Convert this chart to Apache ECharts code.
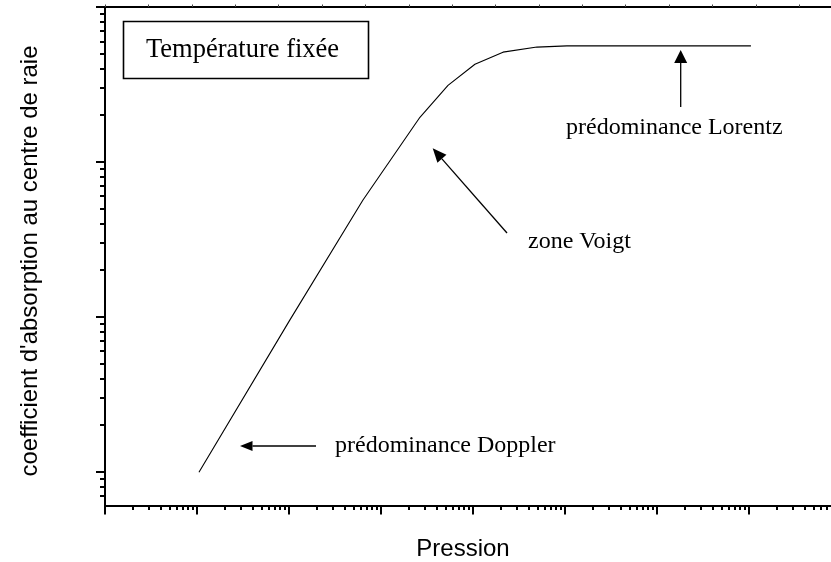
<!DOCTYPE html>
<html>
<head>
<meta charset="utf-8">
<script src="https://cdn.jsdelivr.net/npm/echarts@6/dist/echarts.min.js"></script>
<style>
html,body{margin:0;padding:0;background:#fff;}
#c{width:831px;height:562px;}
</style>
</head>
<body>
<div id="c"></div>
<script>
// ---- data (log-log) ----
const pression = [10.5, 102, 637, 2650, 5350, 10500, 21200, 49600, 105000, 10500000];
const coefficient = [0.99, 9.5, 56.7, 194, 312, 427, 511, 551, 561, 561];

// axis tick values
const xMajorTicks = [1, 10, 100, 1e3, 1e4, 1e5, 1e6, 1e7];
const yMajorTicks = [1, 10, 100, 1000];
const minorMultipliers = [2, 3, 4, 5, 6, 7, 8, 9];

const xMin = 1, xMax = 7.79e7;
const yMin = 0.603, yMax = 1000;

function minorTicks(decades, lo, hi) {
  const out = [];
  decades.forEach(d => minorMultipliers.forEach(m => {
    const v = d * m;
    if (v > lo && v < hi) out.push(v);
  }));
  return out;
}
const xMinorTicks = minorTicks([1, 10, 100, 1e3, 1e4, 1e5, 1e6, 1e7], xMin, xMax);
const yMinorTicks = minorTicks([0.1, 1, 10, 100], yMin, yMax);

const chart = echarts.init(document.getElementById('c'), null, {renderer: 'canvas'});

const black = '#000';
const serif = '"Liberation Serif", "Times New Roman", serif';
const sans = '"Liberation Sans", Arial, sans-serif';

function arrow(x1, y1, x2, y2, headLen, headHalf) {
  const dx = x2 - x1, dy = y2 - y1;
  const L = Math.sqrt(dx * dx + dy * dy);
  const ux = dx / L, uy = dy / L;
  const bx = x2 - ux * headLen, by = y2 - uy * headLen;
  const px = -uy, py = ux;
  return [
    {type: 'line', shape: {x1: x1, y1: y1, x2: bx, y2: by}, style: {stroke: black, lineWidth: 1.3}, silent: true},
    {type: 'polygon', shape: {points: [[x2, y2], [bx + px * headHalf, by + py * headHalf], [bx - px * headHalf, by - py * headHalf]]}, style: {fill: black}, silent: true}
  ];
}

const graphics = [
  {type: 'rect', shape: {x: 123.5, y: 21.5, width: 245, height: 57}, style: {fill: '#fff', stroke: black, lineWidth: 1.6}, z: 10},
  {type: 'text', x: 146, y: 50, style: {text: 'Température fixée', font: '26.5px ' + serif, fill: black, textAlign: 'left', textVerticalAlign: 'middle'}, z: 11},
  {type: 'text', x: 566, y: 128, style: {text: 'prédominance Lorentz', font: '24px ' + serif, fill: black, textAlign: 'left', textVerticalAlign: 'middle'}, z: 11},
  {type: 'text', x: 528, y: 242, style: {text: 'zone Voigt', font: '24px ' + serif, fill: black, textAlign: 'left', textVerticalAlign: 'middle'}, z: 11},
  {type: 'text', x: 335, y: 446, style: {text: 'prédominance Doppler', font: '24px ' + serif, fill: black, textAlign: 'left', textVerticalAlign: 'middle'}, z: 11},
  {type: 'text', x: 463, y: 549, style: {text: 'Pression', font: '24px ' + sans, fill: black, textAlign: 'center', textVerticalAlign: 'middle'}, z: 11},
  {type: 'text', x: 30, y: 261, rotation: Math.PI / 2, style: {text: "coefficient d'absorption au centre de raie", font: '24px ' + sans, fill: black, textAlign: 'center', textVerticalAlign: 'middle'}, z: 11}
]
  .concat(arrow(316, 446, 240, 446, 12.5, 5))
  .concat(arrow(507, 233, 432.7, 148.3, 14, 6))
  .concat(arrow(680.7, 107, 680.7, 50, 13, 6.5));

const option = {
  animation: false,
  backgroundColor: '#fff',
  grid: {left: 105, right: 0, top: 7, bottom: 56.5, containLabel: false},
  xAxis: [
    {
      type: 'log', logBase: 10, min: xMin, max: xMax, position: 'bottom',
      axisLine: {show: true, lineStyle: {color: black, width: 2}},
      axisTick: {show: true, customValues: xMajorTicks, length: 9, lineStyle: {color: black, width: 2}},
      axisLabel: {show: false}, splitLine: {show: false}, minorTick: {show: false}
    },
    {
      type: 'log', logBase: 10, min: xMin, max: xMax, position: 'bottom',
      axisLine: {show: false},
      axisTick: {show: true, customValues: xMinorTicks, length: 4.5, lineStyle: {color: black, width: 2}},
      axisLabel: {show: false}, splitLine: {show: false}
    },
    {
      type: 'value', min: 0, max: 16.73, interval: 1, position: 'top',
      axisLine: {show: true, lineStyle: {color: black, width: 2}},
      axisTick: {show: true, length: 2.5, lineStyle: {color: '#444', width: 1}},
      axisLabel: {show: false}, splitLine: {show: false}
    }
  ],
  yAxis: [
    {
      type: 'log', logBase: 10, min: yMin, max: yMax, position: 'left',
      axisLine: {show: true, lineStyle: {color: black, width: 2}},
      axisTick: {show: true, customValues: yMajorTicks, length: 9, lineStyle: {color: black, width: 2}},
      axisLabel: {show: false}, splitLine: {show: false}
    },
    {
      type: 'log', logBase: 10, min: yMin, max: yMax, position: 'left',
      axisLine: {show: false},
      axisTick: {show: true, customValues: yMinorTicks, length: 5, lineStyle: {color: black, width: 2}},
      axisLabel: {show: false}, splitLine: {show: false}
    }
  ],
  series: [
    {
      type: 'line', xAxisIndex: 0, yAxisIndex: 0,
      data: pression.map((p, i) => [p, coefficient[i]]),
      symbol: 'none', smooth: false,
      lineStyle: {color: black, width: 1.1},
      z: 5
    }
  ],
  graphic: graphics
};

chart.setOption(option);
</script>
</body>
</html>
